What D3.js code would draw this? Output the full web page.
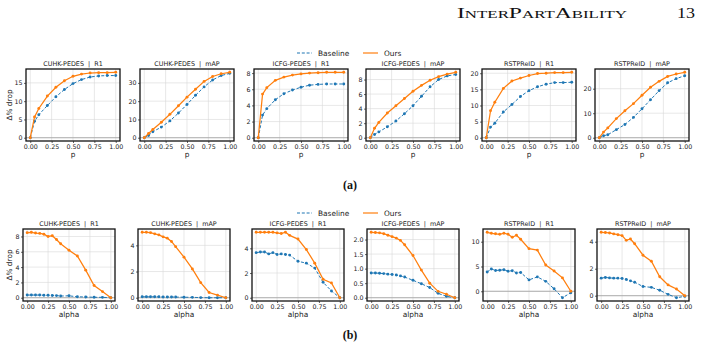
<!DOCTYPE html>
<html><head><meta charset="utf-8">
<script src="https://cdn.jsdelivr.net/npm/d3@7"></script>
<style>body{margin:0;background:#fff} svg{display:block}</style>
</head><body>
<svg id="c" width="701" height="348"></svg>
<script>
// ---------------- data ----------------
const pValues = [0,0.05,0.1,0.2,0.3,0.4,0.5,0.6,0.7,0.8,0.9,1.0];
const alphaValues = [0,0.05,0.1,0.15,0.2,0.25,0.3,0.35,0.4,0.5,0.6,0.7,0.8,0.9,1.0];
const xTickValues = [0,0.25,0.5,0.75,1.0];
const panelTitles = ["CUHK-PEDES  |  R1","CUHK-PEDES  |  mAP","ICFG-PEDES  |  R1","ICFG-PEDES  |  mAP","RSTPReID  |  R1","RSTPReID  |  mAP"];
const seriesNames = ["Baseline","Ours"];

// top row (x = p)
const pBaseCuhkR1  = [0,4.5,6.3,8.8,11.2,13.2,14.8,15.9,16.6,16.9,17.0,17.0];
const pOursCuhkR1  = [0,5.7,8.0,11.4,13.8,15.6,16.8,17.4,17.7,17.8,17.8,17.9];
const pBaseCuhkMap = [0,1.2,3.3,5.8,9.2,13.5,18.2,23.2,27.8,31.6,34.0,35.2];
const pOursCuhkMap = [0,2.3,4.5,8.5,12.8,17.5,22.2,26.5,30.8,33.5,35.0,35.8];
const pBaseIcfgR1  = [0,2.8,3.6,4.7,5.45,5.9,6.25,6.5,6.6,6.65,6.65,6.65];
const pOursIcfgR1  = [0,5.4,6.2,7.1,7.5,7.75,7.9,8.0,8.05,8.1,8.1,8.1];
const pBaseIcfgMap = [0,0.45,0.8,1.5,2.3,3.3,4.4,5.7,7.0,8.0,8.5,8.7];
const pOursIcfgMap = [0,1.3,2.1,3.4,4.4,5.4,6.4,7.2,7.9,8.4,8.75,9.0];
const pBaseRstpR1  = [0,3.3,4.5,8.0,10.3,12.8,14.6,15.8,16.6,17.1,17.1,17.2];
const pOursRstpR1  = [0,8.4,11.0,15.3,17.6,18.5,19.3,19.9,20.0,20.2,20.2,20.3];
const pBaseRstpMap = [0,0.8,1.2,3.3,5.4,8.3,11.8,15.5,19.2,22.4,24.1,25.3];
const pOursRstpMap = [0,2.3,4.0,7.8,11.0,13.9,17.3,20.6,23.0,25.0,26.0,26.7];

// bottom row (x = alpha)
const aBaseCuhkR1  = [0.35,0.35,0.35,0.35,0.33,0.32,0.3,0.28,0.22,0.25,0.12,0.1,0.06,0.05,0];
const aOursCuhkR1  = [8.5,8.55,8.45,8.4,8.3,8.0,8.1,7.6,7.05,6.2,5.45,3.6,1.6,0.8,0];
const aBaseCuhkMap = [0.07,0.07,0.07,0.07,0.07,0.06,0.06,0.06,0.05,0.04,0.03,0.01,0.0,0.0,0];
const aOursCuhkMap = [5.0,5.0,4.97,4.88,4.8,4.65,4.55,4.3,3.9,3.1,2.2,1.15,0.4,0.2,0];
const aBaseIcfgR1  = [3.65,3.7,3.7,3.55,3.65,3.5,3.55,3.5,3.45,2.95,2.8,2.4,1.25,0.55,0];
const aOursIcfgR1  = [5.3,5.3,5.3,5.3,5.3,5.25,5.2,5.3,5.05,4.75,3.9,2.8,1.5,1.2,0];
const aBaseIcfgMap = [0.85,0.85,0.84,0.83,0.81,0.8,0.78,0.75,0.71,0.6,0.48,0.35,0.15,0.05,0];
const aOursIcfgMap = [2.25,2.24,2.23,2.2,2.15,2.1,2.05,1.97,1.82,1.45,0.95,0.5,0.22,0.12,0];
const aBaseRstpR1  = [3.9,4.5,4.2,4.25,4.35,4.05,4.15,3.7,3.8,2.3,2.9,2.0,0.5,-1.3,-0.3];
const aOursRstpR1  = [11.9,11.7,11.6,11.5,11.7,11.5,10.9,11.3,10.5,8.6,8.3,5.3,4.1,2.7,0];
const aBaseRstpMap = [1.3,1.35,1.32,1.3,1.3,1.28,1.2,1.1,1.0,0.68,0.62,0.4,0.1,-0.15,-0.05];
const aOursRstpMap = [4.7,4.68,4.65,4.58,4.52,4.45,4.1,4.2,3.85,3.0,2.55,1.4,0.8,0.5,0];

// y tick labels
const topYTicks = [[0,5,10,15],[0,10,20,30],[0,2,4,6,8],[0,2,4,6,8],[0,5,10,15,20],[0,10,20]];
const bottomYTicks = [[0,2,4,6,8],[0,2,4],[0,2,4],[0,0.5,1.0,1.5,2.0],[0,5,10],[0,2,4]];
const bottomYFormats = ["d","d","d",".1f","d","d"];

// ---------------- drawing ----------------
const svg = d3.select("#c");
const FONT = "DejaVu Sans";
const C_BASE = "#1f77b4", C_OURS = "#ff7f0e";

const topBase = [pBaseCuhkR1,pBaseCuhkMap,pBaseIcfgR1,pBaseIcfgMap,pBaseRstpR1,pBaseRstpMap];
const topOurs = [pOursCuhkR1,pOursCuhkMap,pOursIcfgR1,pOursIcfgMap,pOursRstpR1,pOursRstpMap];
const botBase = [aBaseCuhkR1,aBaseCuhkMap,aBaseIcfgR1,aBaseIcfgMap,aBaseRstpR1,aBaseRstpMap];
const botOurs = [aOursCuhkR1,aOursCuhkMap,aOursIcfgR1,aOursIcfgMap,aOursRstpR1,aOursRstpMap];

const topLefts = [26,140,254,366,482,595], topW = 94, topY = 69, topH = 72;
const botLefts = [23,138,252,367,483,597], botW = 92, botY = 229, botH = 72;

function drawPanel(x0,y0,w,h,xs,base,ours,yTicks,yFmt,title,xlabel,ylabel){
  const g = svg.append("g");
  const x = d3.scaleLinear().domain([-0.05,1.05]).range([x0,x0+w]);
  const all = base.concat(ours);
  const lo = Math.min(0,d3.min(all)), hi = d3.max(all), pad=(hi-lo)*0.05;
  const y = d3.scaleLinear().domain([lo-pad,hi+pad]).range([y0+h,y0]);
  // grid
  g.selectAll(".gx").data(xTickValues).join("line")
    .attr("x1",d=>x(d)).attr("x2",d=>x(d)).attr("y1",y0).attr("y2",y0+h)
    .attr("stroke","#d8d8d8").attr("stroke-width",0.6);
  g.selectAll(".gy").data(yTicks).join("line")
    .attr("y1",d=>y(d)).attr("y2",d=>y(d)).attr("x1",x0).attr("x2",x0+w)
    .attr("stroke","#d8d8d8").attr("stroke-width",0.6);
  // zero line
  g.append("line").attr("x1",x0).attr("x2",x0+w).attr("y1",y(0)).attr("y2",y(0))
    .attr("stroke","#a0a0a0").attr("stroke-width",0.8);
  const line = d3.line().x((d,i)=>x(xs[i])).y(d=>y(d));
  g.append("path").datum(base).attr("d",line).attr("fill","none")
    .attr("stroke",C_BASE).attr("stroke-width",1.0).attr("stroke-dasharray","3,1.8");
  g.selectAll(".mb").data(base).join("circle").attr("cx",(d,i)=>x(xs[i])).attr("cy",d=>y(d))
    .attr("r",1.45).attr("fill",C_BASE);
  g.append("path").datum(ours).attr("d",line).attr("fill","none")
    .attr("stroke",C_OURS).attr("stroke-width",1.25);
  g.selectAll(".mo").data(ours).join("circle").attr("cx",(d,i)=>x(xs[i])).attr("cy",d=>y(d))
    .attr("r",1.45).attr("fill",C_OURS);
  // frame
  g.append("rect").attr("x",x0).attr("y",y0).attr("width",w).attr("height",h)
    .attr("fill","none").attr("stroke","#111").attr("stroke-width",1.3);
  // axes
  const ax = g.append("g").attr("transform",`translate(0,${y0+h})`)
    .call(d3.axisBottom(x).tickValues(xTickValues).tickFormat(d3.format(".2f")).tickSize(2).tickPadding(1.5));
  const ay = g.append("g").attr("transform",`translate(${x0},0)`)
    .call(d3.axisLeft(y).tickValues(yTicks).tickFormat(d3.format(yFmt)).tickSize(2).tickPadding(1.5));
  [ax,ay].forEach(a=>{
    a.select(".domain").remove();
    a.selectAll("line").attr("stroke","#222").attr("stroke-width",0.7);
    a.selectAll("text").attr("font-family",FONT).attr("font-size",6.3).attr("fill","#222");
  });
  g.append("text").attr("x",x0+w/2).attr("y",y0-3.5).attr("text-anchor","middle")
    .attr("font-family",FONT).attr("font-size",6.4).attr("fill","#222")
    .style("white-space","pre").text(title);
  g.append("text").attr("x",x0+w/2).attr("y",y0+h+16).attr("text-anchor","middle")
    .attr("font-family",FONT).attr("font-size",7.4).attr("fill","#222").text(xlabel);
  if (ylabel){
    g.append("text").attr("transform",`translate(12,${y0+h/2}) rotate(-90)`)
      .attr("text-anchor","middle").attr("font-family",FONT).attr("font-size",7.4)
      .attr("fill","#222").text(ylabel);
  }
}

function drawLegend(cy){
  const items = [{name:seriesNames[0],c:C_BASE,dash:"3,1.8",x:297},{name:seriesNames[1],c:C_OURS,dash:null,x:363}];
  items.forEach(it=>{
    svg.append("line").attr("x1",it.x).attr("x2",it.x+15).attr("y1",cy).attr("y2",cy)
      .attr("stroke",it.c).attr("stroke-width",1.2).attr("stroke-dasharray",it.dash);
    svg.append("text").attr("x",it.x+21).attr("y",cy+2.6).attr("font-family",FONT)
      .attr("font-size",7.4).attr("fill","#222").text(it.name);
  });
}

for (let i=0;i<6;i++){
  drawPanel(topLefts[i],topY,topW,topH,pValues,topBase[i],topOurs[i],topYTicks[i],"d",panelTitles[i],"p",i===0?"Δ% drop":null);
  drawPanel(botLefts[i],botY,botW,botH,alphaValues,botBase[i],botOurs[i],bottomYTicks[i],bottomYFormats[i],panelTitles[i],"alpha",i===0?"Δ% drop":null);
}
drawLegend(53);
drawLegend(213);

// header + captions
svg.append("text").attr("x",457).attr("y",18).attr("font-family","Liberation Serif")
  .attr("font-size",14).style("font-variant","small-caps").attr("fill","#111")
  .attr("textLength",170).attr("lengthAdjust","spacingAndGlyphs").text("InterPartAbility");
svg.append("text").attr("x",677).attr("y",18).attr("font-family","Liberation Serif")
  .attr("font-size",14).attr("fill","#111").attr("textLength",18).attr("lengthAdjust","spacingAndGlyphs").text("13");
svg.append("text").attr("x",350).attr("y",189).attr("text-anchor","middle").attr("font-family","Liberation Serif")
  .attr("font-size",12).attr("font-weight","bold").attr("fill","#111").text("(a)");
svg.append("text").attr("x",350).attr("y",339).attr("text-anchor","middle").attr("font-family","Liberation Serif")
  .attr("font-size",12).attr("font-weight","bold").attr("fill","#111").text("(b)");
</script>
</body></html>
